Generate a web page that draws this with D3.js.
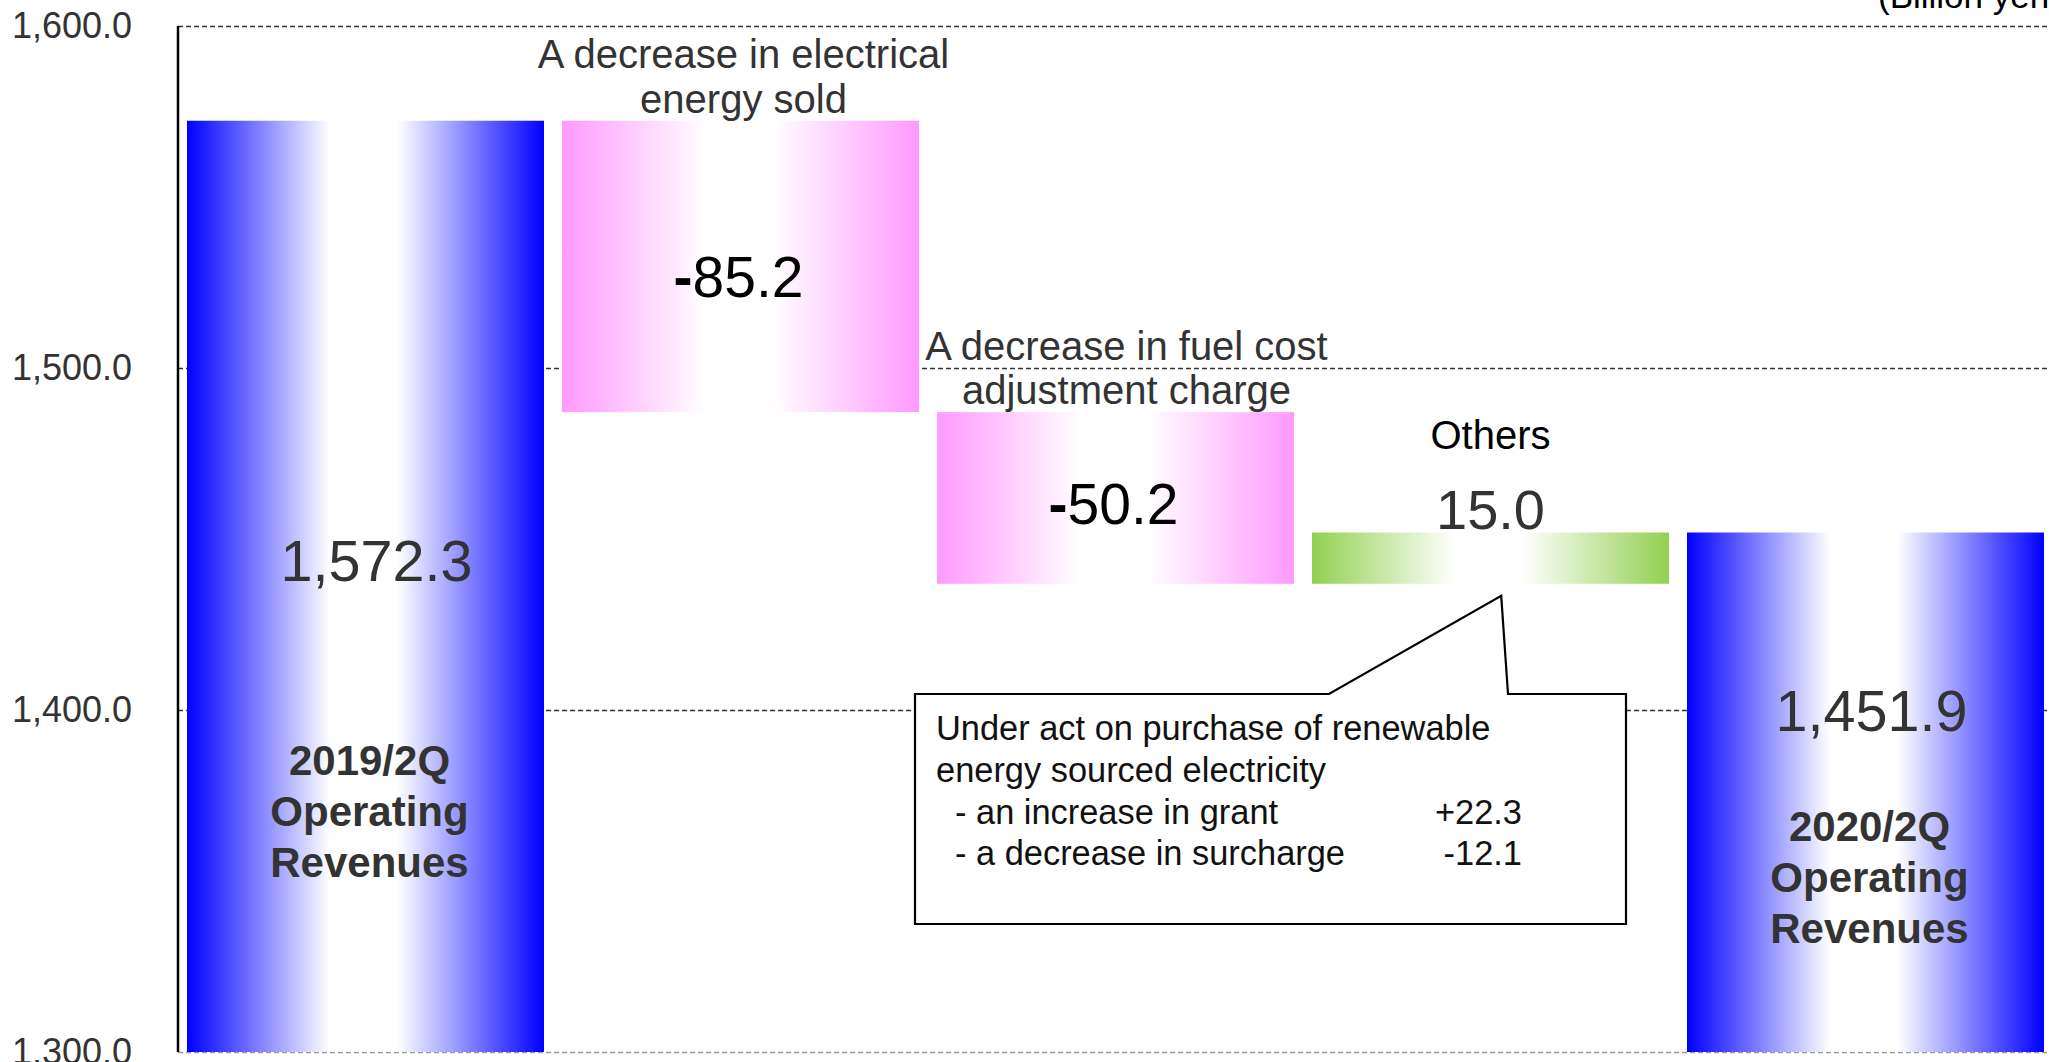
<!DOCTYPE html>
<html>
<head>
<meta charset="utf-8">
<script src="https://cdn.jsdelivr.net/npm/d3@7"></script>
<style>
  html, body { margin: 0; padding: 0; background: #fff; overflow: hidden; }
  svg { display: block; font-family: "Liberation Sans", Arial, sans-serif; }
</style>
</head>
<body>
<svg id="chart" width="2049" height="1062"></svg>
<script>
// ---- data ----
const categories = ["2019/2Q Operating Revenues", "A decrease in electrical energy sold",
                    "A decrease in fuel cost adjustment charge", "Others", "2020/2Q Operating Revenues"];
const values = [1572.3, -85.2, -50.2, 15.0, 1451.9];
const kinds = ["total", "step", "step", "step", "total"];
const valueLabels = ["1,572.3", "-85.2", "-50.2", "15.0", "1,451.9"];
const nameLines = [
  ["2019/2Q", "Operating", "Revenues"],
  ["A decrease in electrical", "energy sold"],
  ["A decrease in fuel cost", "adjustment charge"],
  ["Others"],
  ["2020/2Q", "Operating", "Revenues"]
];
const yTicks = [1300, 1400, 1500, 1600];
const unitLabel = "(Billion yen)";
const calloutLines = [
  "Under act on purchase of renewable",
  "energy sourced electricity"
];
const calloutItems = ["- an increase in grant", "- a decrease in surcharge"];
const calloutValues = ["+22.3", "-12.1"];

// ---- waterfall computation ----
let running = 0;
const bars = categories.map((c, i) => {
  let lo, hi;
  if (kinds[i] === "total") { lo = 1300; hi = values[i]; running = values[i]; }
  else { const start = running; running = running + values[i]; lo = Math.min(start, running); hi = Math.max(start, running); }
  return { cat: c, i, lo, hi, kind: kinds[i], v: values[i] };
});

const svg = d3.select("#chart");
const W = 2049, H = 1062;
const axisX = 178;
const y = d3.scaleLinear().domain([1300, 1600]).range([1052, 26]);
const x = d3.scaleBand().domain(categories).range([axisX, 2053]).paddingInner(0.048).paddingOuter(0.024);

// gradients
const defs = svg.append("defs");
function grad(id, col) {
  const g = defs.append("linearGradient").attr("id", id).attr("x1", 0).attr("x2", 1).attr("y1", 0).attr("y2", 0);
  [[0, col], [0.4, "#ffffff"], [0.59, "#ffffff"], [1, col]].forEach(s =>
    g.append("stop").attr("offset", s[0]).attr("stop-color", s[1]));
}
grad("gBlue", "#0000ff");
grad("gPink", "#ff99ff");
grad("gGreen", "#92d050");

// gridlines
svg.append("g").selectAll("line").data(yTicks).join("line")
  .attr("x1", axisX).attr("x2", W)
  .attr("y1", d => Math.round(y(d)) + 0.5).attr("y2", d => Math.round(y(d)) + 0.5)
  .attr("stroke", d => d === 1300 ? "#999" : "#333")
  .attr("stroke-width", 1.3)
  .attr("stroke-dasharray", "5,3");

// y axis
const ax = svg.append("g").attr("transform", `translate(${axisX},0)`)
  .call(d3.axisLeft(y).tickValues(yTicks).tickFormat(d3.format(",.1f")).tickSize(0).tickPadding(46));
ax.select(".domain").remove();
ax.selectAll("text").attr("font-size", 36).attr("fill", "#333").attr("font-family", "Liberation Sans, Arial, sans-serif");
svg.append("line").attr("x1", axisX).attr("x2", axisX).attr("y1", y(1600)).attr("y2", y(1300))
  .attr("stroke", "#000").attr("stroke-width", 2.5);

// bars
const fillFor = b => b.kind === "total" ? "url(#gBlue)" : (b.v < 0 ? "url(#gPink)" : "url(#gGreen)");
svg.append("g").selectAll("rect").data(bars).join("rect")
  .attr("x", b => x(b.cat)).attr("width", x.bandwidth())
  .attr("y", b => y(b.hi)).attr("height", b => y(b.lo) - y(b.hi))
  .attr("fill", fillFor);

// unit label
svg.append("text").attr("x", 1878).attr("y", 8).attr("font-size", 35).attr("fill", "#000").text(unitLabel);

// labels
const cx = b => x(b.cat) + x.bandwidth() / 2;
bars.forEach(b => {
  const g = svg.append("g");
  if (b.kind === "total") {
    const top = y(b.hi), bot = y(b.lo);
    const valY = b.i === 0 ? top + 440 : top + 178;
    const nameY = b.i === 0 ? top + 640 : top + 294;
    g.append("text").attr("x", cx(b) + (b.i === 0 ? 11 : 6)).attr("y", valY).attr("dy", "0.35em")
      .attr("text-anchor", "middle").attr("font-size", 57.5).attr("fill", "#333").text(valueLabels[b.i]);
    nameLines[b.i].forEach((t, k) => {
      g.append("text").attr("x", cx(b) + 4).attr("y", nameY + k * 51).attr("dy", "0.35em")
        .attr("text-anchor", "middle").attr("font-size", 42).attr("font-weight", "bold").attr("fill", "#333").text(t);
    });
  } else {
    const top = y(b.hi), bot = y(b.lo);
    const inside = (bot - top) > 100;
    let nameBottom;
    if (inside) {
      const lbl = valueLabels[b.i];
      const t = g.append("text").attr("x", cx(b) - 2).attr("y", (top + bot) / 2 + (b.i === 1 ? 11 : 6)).attr("dy", "0.35em")
        .attr("text-anchor", "middle").attr("font-size", 57).attr("fill", "#000");
      if (lbl.startsWith("-")) {
        t.append("tspan").attr("font-weight", "bold").text("-");
        t.append("tspan").text(lbl.slice(1));
      } else t.text(lbl);
      nameBottom = top - 22;
    } else {
      g.append("text").attr("x", cx(b)).attr("y", top - 23).attr("dy", "0.35em")
        .attr("text-anchor", "middle").attr("font-size", 56).attr("fill", "#333").text(valueLabels[b.i]);
      nameBottom = top - 98;
    }
    const lines = nameLines[b.i];
    lines.forEach((t, k) => {
      g.append("text").attr("x", cx(b) + (lines.length > 1 ? (b.i === 2 ? 11 : 3) : 0))
        .attr("y", nameBottom - (lines.length - 1 - k) * 44.5).attr("dy", "0.35em")
        .attr("text-anchor", "middle").attr("font-size", 40)
        .attr("fill", lines.length > 1 ? "#333" : "#000").text(t);
    });
  }
});

// callout
const others = bars[3];
const tipX = x(others.cat) + x.bandwidth() * 0.53, tipY = y(others.lo) + 12;
const bx0 = 915, bx1 = 1626, by0 = 694, by1 = 924;
const path = d3.path();
path.moveTo(bx0, by0); path.lineTo(1329, by0); path.lineTo(tipX, tipY); path.lineTo(1508, by0);
path.lineTo(bx1, by0); path.lineTo(bx1, by1); path.lineTo(bx0, by1); path.closePath();
svg.append("path").attr("d", path.toString()).attr("fill", "#fff").attr("stroke", "#000").attr("stroke-width", 2.2);

const ct = svg.append("g").attr("font-size", 34.4).attr("fill", "#111");
calloutLines.forEach((t, k) => {
  ct.append("text").attr("x", 936).attr("y", 728 + k * 41.8).attr("dy", "0.35em").text(t);
});
calloutItems.forEach((t, k) => {
  ct.append("text").attr("x", 955).attr("y", 811.5 + k * 41.8).attr("dy", "0.35em").text(t);
  ct.append("text").attr("x", 1522).attr("y", 811.5 + k * 41.8).attr("dy", "0.35em")
    .attr("text-anchor", "end").text(calloutValues[k]);
});
</script>
</body>
</html>
